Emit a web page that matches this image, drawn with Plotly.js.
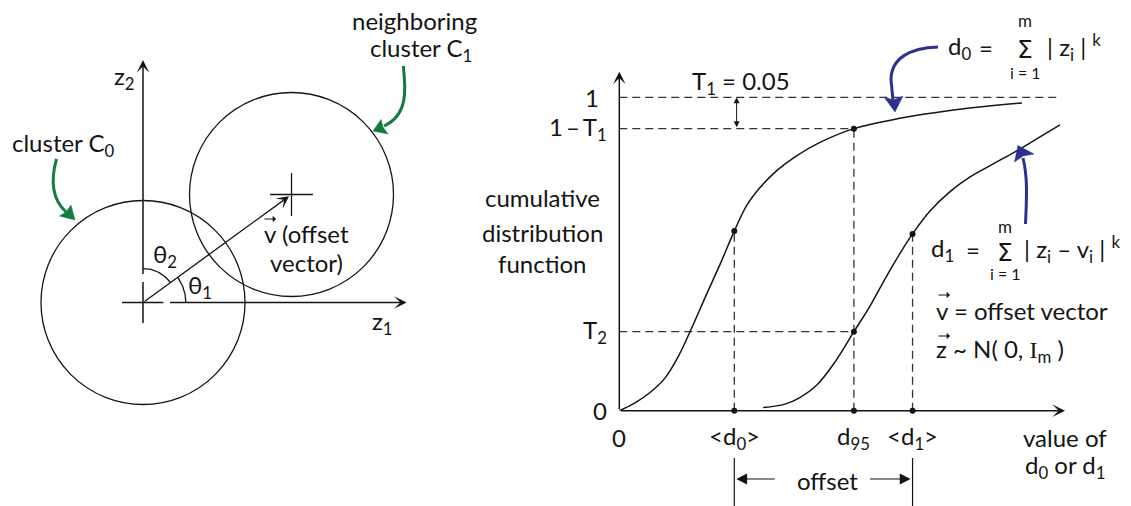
<!DOCTYPE html>
<html>
<head>
<meta charset="utf-8">
<script src="https://cdn.plot.ly/plotly-3.0.1.min.js"></script>
<style>
  html, body { margin: 0; padding: 0; background: #fff; }
  #chart { width: 1131px; height: 506px; }
</style>
</head>
<body>
<div id="chart"></div>
<script>
// ---------- left panel: clusters in the (z1, z2) plane, unit = cluster radius ----------
const clusterRadius = 1.0;
const cluster0Center = [0.0, 0.0];
const cluster1Center = [1.456, 1.059];      // tip of the offset vector v
const crossHalf = 0.21;

// ---------- right panel: cumulative distribution functions ----------
const d0Value = [0, 0.137, 0.267, 0.397, 0.510, 0.615, 0.745, 0.876, 1.0, 1.108, 1.224,
                 1.369, 1.528, 1.745, 2.04, 2.440, 2.875, 3.502];
const d0Cdf   = [0, 0.025, 0.058, 0.104, 0.171, 0.252, 0.360, 0.467, 0.573, 0.655, 0.712,
                 0.766, 0.810, 0.856, 0.90, 0.933, 0.958, 0.982];
const d1Value = [1.251, 1.440, 1.570, 1.718, 1.875, 2.04, 2.180, 2.310, 2.441, 2.55, 2.702,
                 2.876, 3.050, 3.224, 3.441, 3.615, 3.832];
const d1Cdf   = [0.010, 0.021, 0.042, 0.082, 0.155, 0.252, 0.334, 0.420, 0.502, 0.564, 0.637,
                 0.699, 0.746, 0.782, 0.826, 0.864, 0.912];

const meanD0 = 1.0;
const d95 = 2.04;
const meanD1 = 2.55;
const oneMinusT1 = 0.90;
const T2 = 0.252;

const yTickVals = [0, T2, oneMinusT1, 1];
const yTickText = ['0', 'T<sub>2</sub>', '1\u2009–\u2009T<sub>1</sub>', '1'];
const xTickVals = [0, meanD0, d95, meanD1];
const xTickText = ['0', '&lt;d<sub>0</sub>&gt;', 'd<sub>95</sub>', '&lt;d<sub>1</sub>&gt;'];

// ---------- drawing ----------
const W = 1131, H = 506;
const FONT = 'Lato, "Noto Sans", sans-serif';
const SIGMA_FONT = '"DejaVu Sans", "Noto Sans", sans-serif';
const FS = 24;
const INK = '#141414';
const BLUE = '#2c3190';
const GREEN = '#137a40';
const px = x => x / W;
const py = y => 1 - y / H;

const cdfAt = (vals, cdf, v) => cdf[vals.indexOf(v)];
const meanD0Cdf = cdfAt(d0Value, d0Cdf, meanD0);
const meanD1Cdf = cdfAt(d1Value, d1Cdf, meanD1);

function arc(r, a0, a1) {
  const xs = [], ys = [];
  for (let i = 0; i <= 40; i++) {
    const a = a0 + (a1 - a0) * i / 40;
    xs.push(r * Math.cos(a)); ys.push(r * Math.sin(a));
  }
  return { x: xs, y: ys };
}
const vAngle = Math.atan2(cluster1Center[1], cluster1Center[0]);
const arc1 = arc(0.42, 0, vAngle);
const arc2 = arc(0.333, vAngle, Math.PI / 2);

const thin = { color: INK, width: 1.3 };
const dashed = { color: '#333', width: 1.3, dash: '8px,5px' };
const traces = [
  // z1 / z2 axis stubs near the origin
  { x: [-0.206, 0.20], y: [0, 0], xaxis: 'x', yaxis: 'y', mode: 'lines', line: { color: INK, width: 1.5 } },
  { x: [0, 0], y: [-0.20, 0.20], xaxis: 'x', yaxis: 'y', mode: 'lines', line: { color: INK, width: 1.5 } },
  // angle arcs
  { x: arc1.x, y: arc1.y, xaxis: 'x', yaxis: 'y', mode: 'lines', line: thin },
  { x: arc2.x, y: arc2.y, xaxis: 'x', yaxis: 'y', mode: 'lines', line: thin },
  // cross at the neighbouring cluster centre
  { x: [cluster1Center[0] - crossHalf, cluster1Center[0] + crossHalf, null, cluster1Center[0], cluster1Center[0]],
    y: [cluster1Center[1], cluster1Center[1], null, cluster1Center[1] - crossHalf, cluster1Center[1] + crossHalf],
    xaxis: 'x', yaxis: 'y', mode: 'lines', line: thin },

  // dashed guides
  { x: [0, d1Value[d1Value.length - 1]], y: [1, 1], xaxis: 'x2', yaxis: 'y2', mode: 'lines', line: dashed },
  { x: [0, d95], y: [oneMinusT1, oneMinusT1], xaxis: 'x2', yaxis: 'y2', mode: 'lines', line: dashed },
  { x: [0, d95], y: [T2, T2], xaxis: 'x2', yaxis: 'y2', mode: 'lines', line: dashed },
  { x: [meanD0, meanD0], y: [0, meanD0Cdf], xaxis: 'x2', yaxis: 'y2', mode: 'lines', line: dashed },
  { x: [d95, d95], y: [0, oneMinusT1], xaxis: 'x2', yaxis: 'y2', mode: 'lines', line: dashed },
  { x: [meanD1, meanD1], y: [0, meanD1Cdf], xaxis: 'x2', yaxis: 'y2', mode: 'lines', line: dashed },

  // the two CDF curves
  { x: d0Value, y: d0Cdf, xaxis: 'x2', yaxis: 'y2', mode: 'lines',
    line: { color: INK, width: 1.5, shape: 'spline', smoothing: 1 } },
  { x: d1Value, y: d1Cdf, xaxis: 'x2', yaxis: 'y2', mode: 'lines',
    line: { color: INK, width: 1.5, shape: 'spline', smoothing: 1 } },

  // marked points
  { x: [meanD0, d95, d95, meanD1, meanD0, d95, meanD1],
    y: [meanD0Cdf, oneMinusT1, T2, meanD1Cdf, 0, 0, 0],
    xaxis: 'x2', yaxis: 'y2', mode: 'markers', cliponaxis: false,
    marker: { color: INK, size: 6 } }
];

function txt(text, x, y, o) {
  return Object.assign({
    text, x: px(x), y: py(y), xref: 'paper', yref: 'paper', showarrow: false,
    xanchor: 'center', yanchor: 'middle',
    font: { family: FONT, size: FS, color: INK }
  }, o || {});
}
function sized(text, x, y, size, family) {
  return txt(text, x, y, { font: { family: family || FONT, size: size, color: INK } });
}
function overArrow(x, y) {   // small vector arrow written above a letter
  return { x: px(x), y: py(y), xref: 'paper', yref: 'paper', text: '', showarrow: true,
           ax: -13, ay: 0, arrowhead: 1, arrowsize: 1, arrowwidth: 1.1, arrowcolor: INK };
}
function axisArrow(xref, yref, x, y, ax, ay) {
  return { xref, yref, axref: xref, ayref: yref, x, y, ax, ay, text: '', showarrow: true,
           arrowhead: 3, arrowsize: 1.4, arrowwidth: 1.5, arrowcolor: INK };
}

const annotations = [
  // left panel axes and offset vector
  axisArrow('x', 'y', 2.585, 0, 0.25, 0),
  axisArrow('x', 'y', 0, 2.377, 0, 0.265),
  Object.assign(axisArrow('x', 'y', cluster1Center[0], cluster1Center[1], cluster0Center[0], cluster0Center[1]),
                { arrowwidth: 1.3, arrowsize: 1.6, standoff: 3 }),
  // right panel axes
  axisArrow('x2', 'y2', 3.8757, 0, 0, 0),
  axisArrow('x2', 'y2', 0, 1.0817, 0, 0),
  // T1 gap marker
  { xref: 'x2', yref: 'y2', axref: 'x2', ayref: 'y2', x: 1.02, y: 1, ax: 1.02, ay: oneMinusT1,
    text: '', showarrow: true, arrowside: 'end+start', arrowhead: 2, startarrowhead: 2,
    arrowsize: 1.2, startarrowsize: 1.2, arrowwidth: 1, arrowcolor: INK },
  // offset arrows
  { xref: 'x2', yref: 'paper', x: meanD0, y: py(479), ax: 42, ay: 0, text: '', showarrow: true,
    arrowhead: 2, arrowsize: 1.8, arrowwidth: 1.2, arrowcolor: INK, standoff: 2 },
  { xref: 'x2', yref: 'paper', x: meanD1, y: py(479), ax: -44, ay: 0, text: '', showarrow: true,
    arrowhead: 2, arrowsize: 1.8, arrowwidth: 1.2, arrowcolor: INK, standoff: 2 },

  // left panel text
  txt('z<sub>2</sub>', 124, 77),
  txt('z<sub>1</sub>', 382, 322),
  txt('cluster C<sub>0</sub>', 63, 144),
  txt('neighboring', 414, 21),
  txt('cluster C<sub>1</sub>', 421, 50),
  txt('θ<sub>2</sub>', 165, 256),
  txt('θ<sub>1</sub>', 200, 286),
  txt('v (offset', 306, 233),
  overArrow(276, 219),
  txt('vector)', 306, 262),

  // right panel text
  txt('T<sub>1</sub> = 0.05', 741, 83),
  txt('cumulative', 542, 198),
  txt('distribution', 542, 232),
  txt('function', 542, 263),
  txt('value of', 1065, 437),
  txt('d<sub>0</sub> or d<sub>1</sub>', 1065, 466),
  txt('offset', 827, 480),

  // d0 formula
  txt('d<sub>0</sub>', 946, 47, { xanchor: 'left' }),
  txt('=', 986, 47),
  sized('Σ', 1025, 50, 25, SIGMA_FONT),
  sized('m', 1025, 21, 17),
  sized('i = 1', 1025, 72, 16),
  txt('| z<sub>i</sub> | <sup>k</sup>', 1045, 47, { xanchor: 'left' }),

  // d1 formula
  txt('d<sub>1</sub>', 929, 249, { xanchor: 'left' }),
  txt('=', 973, 249),
  sized('Σ', 1005, 252, 25, SIGMA_FONT),
  sized('m', 1005, 226, 17),
  sized('i = 1', 1005, 273, 16),
  txt('| z<sub>i</sub> – v<sub>i</sub> | <sup>k</sup>', 1022, 249, { xanchor: 'left' }),

  txt('v = offset vector', 934, 310, { xanchor: 'left' }),
  overArrow(950, 295),
  txt('z ~ N( 0, <span style="font-family:Liberation Serif">I</span><sub>m</sub> )', 934, 350, { xanchor: 'left' }),
  overArrow(950, 336)
];

// axis tick labels placed at their values
yTickVals.forEach((v, i) => {
  annotations.push({
    text: yTickText[i], xref: 'paper', yref: 'y2', x: px(i === 3 ? 601 : 609), y: v,
    showarrow: false, xanchor: 'right', yanchor: 'middle',
    font: { family: FONT, size: FS, color: INK }
  });
});
xTickVals.forEach((v, i) => {
  annotations.push({
    text: xTickText[i], xref: 'x2', yref: 'paper', x: v, y: py(437),
    showarrow: false, xanchor: 'center', yanchor: 'middle',
    font: { family: FONT, size: FS, color: INK }
  });
});

// pointer arrows (pixel paths converted to paper coordinates)
function path(cmds) {
  let out = '', pair = [];
  cmds.forEach(c => {
    if (typeof c === 'string') { out += c + ' '; return; }
    pair.push(c);
    if (pair.length === 2) { out += px(pair[0]).toFixed(5) + ',' + py(pair[1]).toFixed(5) + ' '; pair = []; }
  });
  return out.trim();
}
function pointer(shaft, head, color) {
  return [
    { type: 'path', xref: 'paper', yref: 'paper', path: path(shaft), line: { color, width: 3 } },
    { type: 'path', xref: 'paper', yref: 'paper', path: path(head), fillcolor: color, line: { color, width: 0.5 } }
  ];
}

const shapes = [
  { type: 'circle', xref: 'x', yref: 'y',
    x0: cluster0Center[0] - clusterRadius, x1: cluster0Center[0] + clusterRadius,
    y0: cluster0Center[1] - clusterRadius, y1: cluster0Center[1] + clusterRadius, line: thin },
  { type: 'circle', xref: 'x', yref: 'y',
    x0: cluster1Center[0] - clusterRadius, x1: cluster1Center[0] + clusterRadius,
    y0: cluster1Center[1] - clusterRadius, y1: cluster1Center[1] + clusterRadius, line: thin },
  // offset bracket
  { type: 'line', xref: 'x2', yref: 'paper', x0: meanD0, x1: meanD0, y0: py(458), y1: py(506),
    line: { color: INK, width: 1.2 } },
  { type: 'line', xref: 'x2', yref: 'paper', x0: meanD1, x1: meanD1, y0: py(458), y1: py(506),
    line: { color: INK, width: 1.2 } },
  ...pointer(['M', 938, 47, 'C', 910, 48, 891, 58, 891, 80, 'L', 893, 100],
             ['M', 884, 97, 'L', 895, 112, 'L', 903, 96, 'L', 893.5, 100, 'Z'], BLUE),
  ...pointer(['M', 1025.5, 224, 'C', 1026.5, 200, 1028, 178, 1023, 158],
             ['M', 1018, 145.5, 'L', 1014.5, 162, 'L', 1023, 156, 'L', 1034, 154, 'Z'], BLUE),
  ...pointer(['M', 56.5, 159, 'C', 50, 182, 53, 200, 66, 212],
             ['M', 75, 220, 'L', 59.5, 216, 'L', 66, 212, 'L', 71, 205, 'Z'], GREEN),
  ...pointer(['M', 403.3, 66, 'C', 406, 90, 408, 115, 384, 126],
             ['M', 373, 131, 'L', 381, 119.5, 'L', 383, 127, 'L', 388, 134, 'Z'], GREEN)
];

const layout = {
  width: W, height: H,
  margin: { l: 0, r: 0, t: 0, b: 0 },
  paper_bgcolor: '#ffffff', plot_bgcolor: 'rgba(0,0,0,0)',
  showlegend: false,
  xaxis: { domain: [px(10), px(420)], range: [(10 - 143) / 102, (420 - 143) / 102], visible: false, anchor: 'y' },
  yaxis: { domain: [py(420), py(20)], range: [(302.5 - 420) / 102, (302.5 - 20) / 102], visible: false, anchor: 'x' },
  xaxis2: { domain: [px(619.3), px(1065)], range: [0, 3.8757], visible: false, anchor: 'y2' },
  yaxis2: { domain: [py(410.7), py(71.7)], range: [0, 1.0817], visible: false, anchor: 'x2' },
  shapes, annotations
};

Plotly.newPlot('chart', traces, layout, { displayModeBar: false, staticPlot: true });
</script>
</body>
</html>
